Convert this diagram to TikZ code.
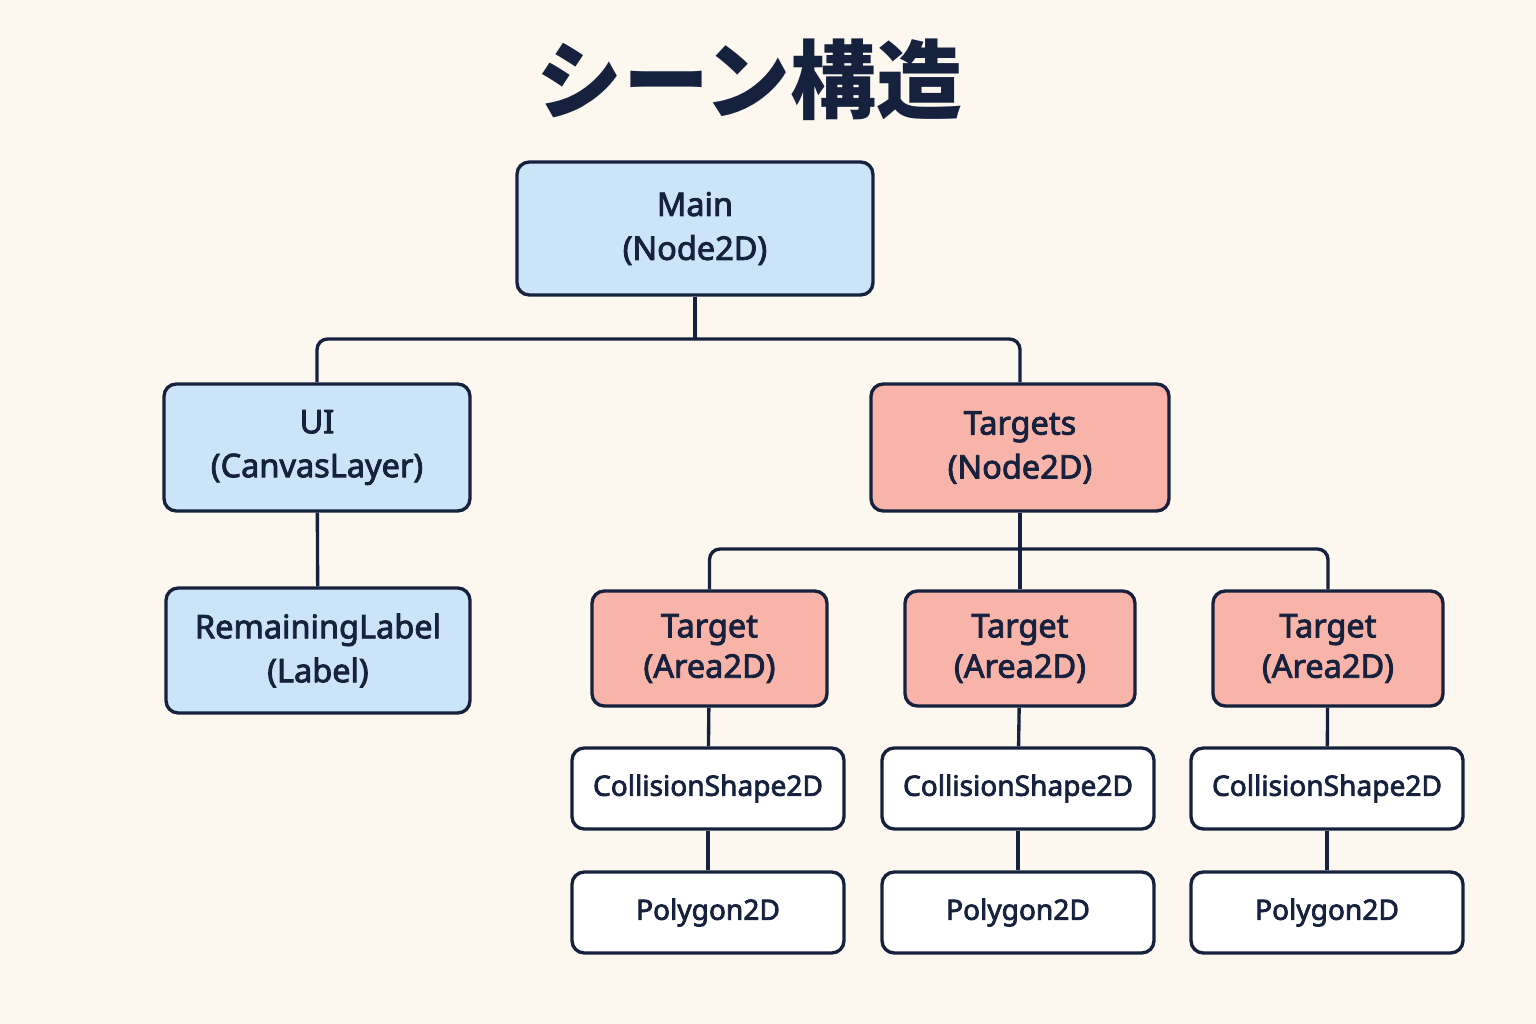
\documentclass[tikz,border=0pt]{standalone}
\usepackage{fontspec}
\setmainfont{Noto Sans}[FakeBold=2.6]
\newfontfamily\cjk{Noto Sans CJK JP}
\definecolor{bg}{HTML}{FCF8F0}
\definecolor{bluef}{HTML}{CCE4F8}
\definecolor{redf}{HTML}{F8B4A8}
\definecolor{ink}{HTML}{16213E}
\begin{document}
\begin{tikzpicture}[x=0.02cm,y=-0.02cm,
  box/.style={draw=ink,line width=1.9pt,rounded corners=7pt,align=center,text=ink,inner sep=0pt},
  wire/.style={draw=ink,line width=1.9pt,rounded corners=6pt}]
\fill[bg] (0,0) rectangle (1536,1024);
\node[text=ink,font=\cjk\bfseries\fontsize{49}{56}\selectfont] (title) at (750,80) {シーン構造};
\newcommand{\bx}[8]{\node[box,fill=#6,minimum width={(#3-#2)*0.02cm},minimum height={(#5-#4)*0.02cm},font=#7] (#1) at ({(#2+#3)/2},{(#4+#5)/2}) {#8};}
\bx{main}{517}{873}{162}{295}{bluef}{\fontsize{18.5}{25}\selectfont}{Main\\(Node2D)}
\bx{ui}{164}{470}{384}{511}{bluef}{\fontsize{18.5}{25}\selectfont}{UI\\(CanvasLayer)}
\bx{tg}{871}{1169}{384}{511}{redf}{\fontsize{18.5}{25}\selectfont}{Targets\\(Node2D)}
\bx{rl}{166}{470}{588}{713}{bluef}{\fontsize{18.5}{25}\selectfont}{RemainingLabel\\(Label)}
\bx{t1}{592}{827}{591}{706}{redf}{\fontsize{18.5}{23}\selectfont}{Target\\(Area2D)}
\bx{t2}{905}{1135}{591}{706}{redf}{\fontsize{18.5}{23}\selectfont}{Target\\(Area2D)}
\bx{t3}{1213}{1443}{591}{706}{redf}{\fontsize{18.5}{23}\selectfont}{Target\\(Area2D)}
\bx{c1}{572}{844}{748}{829}{white}{\fontsize{16}{20}\selectfont}{CollisionShape2D}
\bx{c2}{882}{1154}{748}{829}{white}{\fontsize{16}{20}\selectfont}{CollisionShape2D}
\bx{c3}{1191}{1463}{748}{829}{white}{\fontsize{16}{20}\selectfont}{CollisionShape2D}
\bx{p1}{572}{844}{872}{953}{white}{\fontsize{16}{20}\selectfont}{Polygon2D}
\bx{p2}{882}{1154}{872}{953}{white}{\fontsize{16}{20}\selectfont}{Polygon2D}
\bx{p3}{1191}{1463}{872}{953}{white}{\fontsize{16}{20}\selectfont}{Polygon2D}
\coordinate (b1) at (695,339);
\coordinate (b2) at (1020,549);
\draw[wire] (ui.north) |- (tg.north |- b1) -- (tg.north);
\draw[wire] (main.south) -- (main.south |- b1);
\draw[wire] (t1.north) |- (t3.north |- b2) -- (t3.north);
\draw[wire] (tg.south) -- (tg.south |- b2);
\draw[wire] (t2.north) -- (t2.north |- b2);
\draw[wire] (ui) -- (rl);
\foreach \i in {1,2,3}{\draw[wire] (t\i) -- (c\i); \draw[wire] (c\i) -- (p\i);}
\end{tikzpicture}
\end{document}
